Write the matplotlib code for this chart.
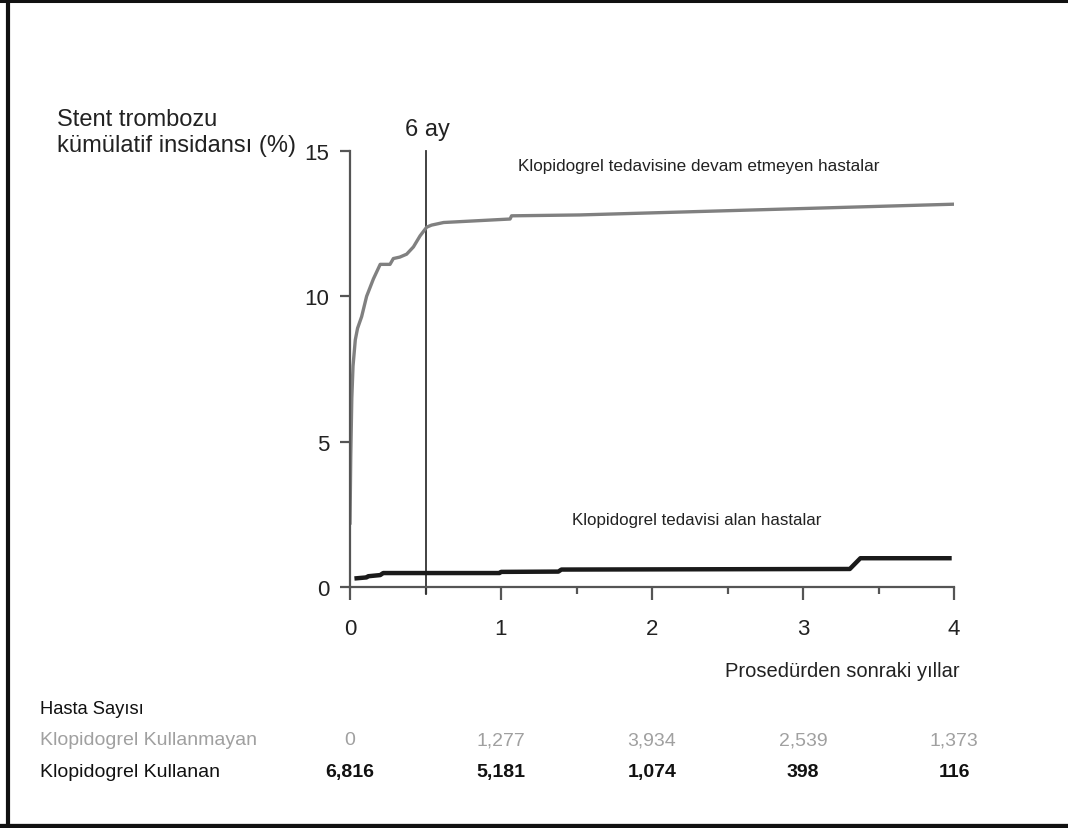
import matplotlib
matplotlib.use("Agg")
import matplotlib.pyplot as plt
from matplotlib import font_manager
from matplotlib.lines import Line2D

# ---- data ----
years_off = [0, 0.005, 0.012, 0.02, 0.035, 0.05, 0.077, 0.11, 0.155, 0.2, 0.265, 0.287,
             0.33, 0.375, 0.42, 0.464, 0.508, 0.54, 0.62, 1.06, 1.07, 1.52, 4.0]
inc_off = [2.2, 4.5, 6.5, 7.6, 8.5, 8.9, 9.3, 10.0, 10.6, 11.1, 11.1, 11.3,
           11.35, 11.45, 11.7, 12.08, 12.38, 12.45, 12.54, 12.66, 12.77, 12.8, 13.17]
years_on = [0.044, 0.11, 0.12, 0.2, 0.22, 0.99, 1.0, 1.38, 1.4, 3.31, 3.38, 3.97]
inc_on = [0.3, 0.33, 0.37, 0.41, 0.48, 0.48, 0.52, 0.53, 0.6, 0.62, 0.99, 0.99]

x_ticks = [0, 1, 2, 3, 4]
y_ticks = [0, 5, 10, 15]
risk_off = ["0", "1,277", "3,934", "2,539", "1,373"]
risk_on = ["6,816", "5,181", "1,074", "398", "116"]

# ---- fonts ----
avail = {f.name for f in font_manager.fontManager.ttflist}
fam = ["Liberation Sans Narrow"] if "Liberation Sans Narrow" in avail else ["Liberation Sans"]
plt.rcParams["font.family"] = fam + ["DejaVu Sans"]

W, H = 1068, 829
fig = plt.figure(figsize=(W / 100, H / 100), dpi=100)
fig.patch.set_facecolor("white")

def fx(px):
    return px / W

def fy(py):
    return 1 - py / H

# frame (top, left, bottom)
fig.add_artist(Line2D([0, 1], [fy(1.5), fy(1.5)], transform=fig.transFigure,
                      color="#111111", linewidth=2.2))
fig.add_artist(Line2D([fx(8), fx(8)], [0, 1], transform=fig.transFigure,
                      color="#111111", linewidth=3.0))
fig.add_artist(Line2D([0, 1], [fy(826.5), fy(826.5)], transform=fig.transFigure,
                      color="#111111", linewidth=3.8))

ax = fig.add_axes([fx(350), fy(588), fx(954) - fx(350), fy(152) - fy(588)])
ax.set_xlim(0, 4)
ax.set_ylim(0, 15)
ax.patch.set_alpha(0)
for s in ["top", "right"]:
    ax.spines[s].set_visible(False)
spine_col = "#555555"
for s in ["left", "bottom"]:
    ax.spines[s].set_color(spine_col)
    ax.spines[s].set_linewidth(1.6)

ax.set_xticks(x_ticks)
ax.set_xticks([0.5, 1.5, 2.5, 3.5], minor=True)
ax.set_yticks(y_ticks)
ax.tick_params(axis="x", which="major", direction="out", length=9, width=1.6,
               color=spine_col, labelsize=16, pad=13, labelcolor="#222222")
ax.tick_params(axis="x", which="minor", direction="out", length=5, width=1.6,
               color=spine_col)
ax.tick_params(axis="y", which="major", direction="out", length=7, width=1.6,
               color=spine_col, labelsize=16, pad=8, labelcolor="#222222")

# 6 month line
ax.axvline(0.5, ymin=-0.016, ymax=1.0, color="#333333", linewidth=1.3, clip_on=False)

ax.plot(years_off, inc_off, color="#808080", linewidth=2.4, solid_joinstyle="round")
ax.plot(years_on, inc_on, color="#1a1a1a", linewidth=3.2, solid_joinstyle="round")

# texts
fig.text(fx(57), fy(133), "Stent trombozu\nkümülatif insidansı (%)", fontsize=17,
         color="#222222", ha="left", va="center", linespacing=1.25)
fig.text(fx(427), fy(130), "6 ay", fontsize=17, color="#222222", ha="center", va="center")
fig.text(fx(699), fy(167), "Klopidogrel tedavisine devam etmeyen hastalar", fontsize=12.3,
         color="#222222", ha="center", va="center")
fig.text(fx(697), fy(521), "Klopidogrel tedavisi alan hastalar", fontsize=12.2,
         color="#222222", ha="center", va="center")
fig.text(fx(842), fy(672), "Prosedürden sonraki yıllar", fontsize=14.5,
         color="#222222", ha="center", va="center")

fig.text(fx(40), fy(710), "Hasta Sayısı", fontsize=13.2, color="#111111",
         ha="left", va="center")
fig.text(fx(40), fy(741), "Klopidogrel Kullanmayan", fontsize=14, color="#a0a0a0",
         ha="left", va="center")
fig.text(fx(40), fy(773), "Klopidogrel Kullanan", fontsize=14, color="#111111",
         ha="left", va="center")

for xv, a, b in zip(x_ticks, risk_off, risk_on):
    xd = ax.transData.transform((xv, 0))[0]
    xfig = fig.transFigure.inverted().transform((xd, 0))[0]
    fig.text(xfig, fy(741), a, fontsize=14, color="#a0a0a0", ha="center", va="center")
    fig.text(xfig, fy(773), b, fontsize=14, color="#111111", ha="center", va="center",
             fontweight="bold")

fig.savefig("out.png", dpi=100, facecolor="white")
